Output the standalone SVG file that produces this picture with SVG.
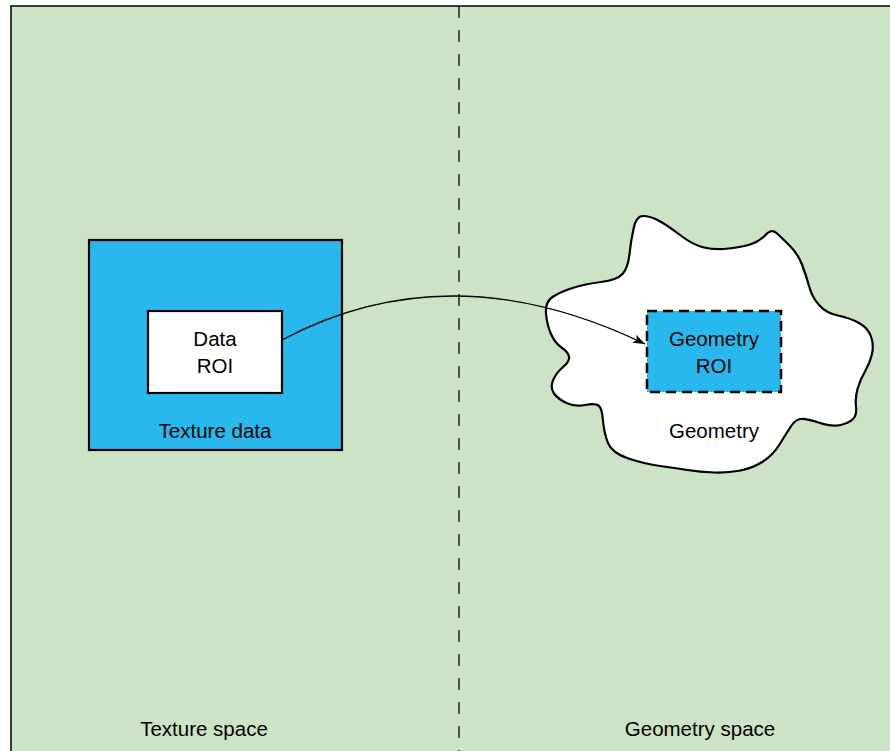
<svg xmlns="http://www.w3.org/2000/svg" width="890" height="751" viewBox="0 0 890 751">
<defs>
<style>
text{font-family:"Liberation Sans",Arial,sans-serif;font-size:20.5px;fill:#000;text-anchor:middle}
.box{stroke:#000;stroke-width:2.2}
</style>
<marker id="ah" markerUnits="userSpaceOnUse" markerWidth="14" markerHeight="10" refX="12" refY="4.5" orient="auto">
<path d="M0,0 L12,4.5 L0,9 L3,4.5 Z" fill="#000"/>
</marker>
</defs>
<rect x="0" y="0" width="890" height="751" fill="#fff"/>
<g id="background">
<rect x="11" y="6" width="890" height="760" fill="#cce4c5"/>
<path d="M11,751 L11,6 L890,6" fill="none" stroke="#000" stroke-width="1.5"/>
<line x1="459" y1="6" x2="459" y2="751" stroke="#000" stroke-width="1.3" stroke-dasharray="12,12"/>
</g>
<g id="texture-data">
<rect class="box" x="89" y="240" width="253" height="210" fill="#29b8ed"/>
<text x="215" y="438">Texture data</text>
</g>
<g id="data-roi">
<rect class="box" x="148" y="311" width="134" height="82" fill="#fff"/>
<text x="215" y="346">Data</text>
<text x="215" y="373">ROI</text>
</g>
<g id="geometry">
<path d="M546,313.5 Q545,302 552.5,297 Q560,292 572.5,288 Q585,284 601,282 Q617,280 622.5,274 Q628,268 629.5,254 Q631,240 633.5,229 Q636,216 643,216 Q650,216 658.5,220.5 Q667,225 680,235 Q693,245 704,247.5 Q715,250 728.5,248.5 Q742,247 750,244.5 Q758,242 764.5,236 Q771,228 776.5,233 Q782,238 790,246 Q798,254 802,264.5 Q806,275 809,286 Q812,297 819,305 Q826,313 838,315.5 Q850,318 859,323 Q868,328 871,336.5 Q874,345 872,354 Q870,363 865,371.5 Q860,380 857.5,389 Q855,398 856,406.5 Q857,415 853,419 Q849,423 840.5,425 Q832,427 818.5,422.5 Q805,418 800,419 Q795,420 790.5,427 Q786,434 779.5,444.5 Q773,455 763,461.5 Q753,468 740.5,470.5 Q728,473 714,472.5 Q700,472 687.5,470 Q675,468 660,466 Q645,464 628.5,458.5 Q612,453 608,443 Q604,433 603,420.5 Q602,408 598.5,405.5 Q595,403 585,405 Q575,407 566.5,403 Q558,399 554,393.5 Q550,388 553,380.5 Q556,373 563,367 Q570,361 569,356.5 Q568,352 561.5,347.5 Q555,343 551,334 Q547,325 546,313.5 Z" fill="#fff" stroke="#000" stroke-width="2.2"/>
<text x="714" y="438">Geometry</text>
</g>
<g id="geometry-roi">
<rect x="647" y="311" width="134" height="81" fill="#29b8ed" stroke="#000" stroke-width="2.5" stroke-dasharray="10,6"/>
<text x="714" y="346">Geometry</text>
<text x="714" y="373">ROI</text>
</g>
<g id="connectors">
<path d="M282,340 Q450,250 645,344" fill="none" stroke="#000" stroke-width="1.3" marker-end="url(#ah)"/>
</g>
<g id="labels">
<text x="204" y="736">Texture space</text>
<text x="700" y="736">Geometry space</text>
</g>
</svg>
